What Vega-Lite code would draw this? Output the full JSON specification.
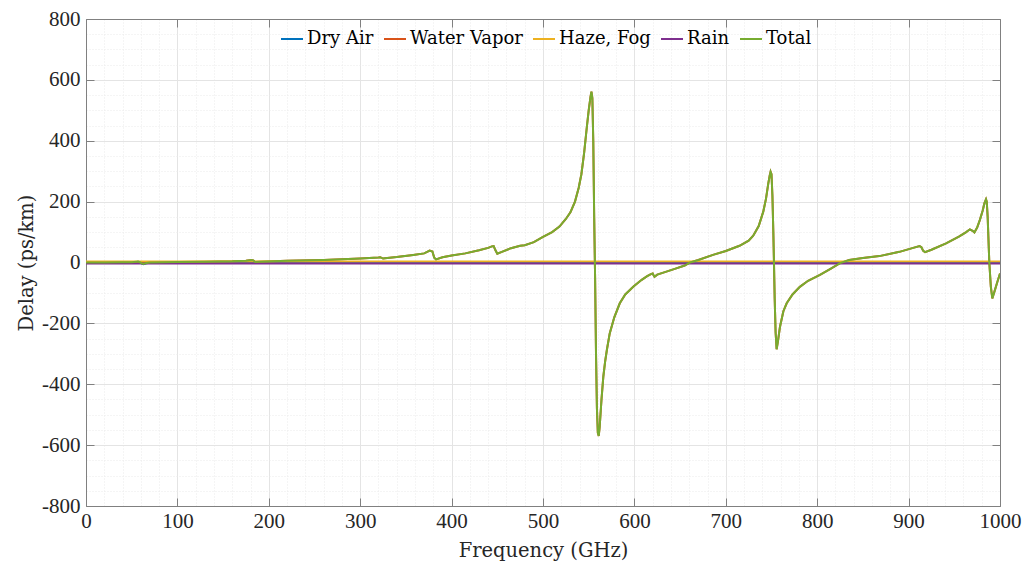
{
  "$schema": "https://vega.github.io/schema/vega-lite/v6.json",
  "width": 914,
  "height": 487,
  "autosize": {"type": "none"},
  "padding": {"left": 86, "top": 19, "right": 23, "bottom": 58},
  "background": "white",
  "config": {
    "view": {"stroke": null},
    "font": "DejaVu Serif",
    "legend": {"labelFont": "DejaVu Serif"},
    "axis": {
      "labelFont": "Liberation Serif",
      "labelFontSize": 21,
      "labelColor": "#262626",
      "titleFont": "DejaVu Serif",
      "titleFontSize": 19.5,
      "titleFontWeight": "normal",
      "titleColor": "#262626",
      "domainColor": "#808080",
      "tickColor": "#808080",
      "gridColor": "#e4e4e4",
      "gridWidth": 1
    }
  },
  "data": {
    "values": [
      {"s": "Dry Air", "f": 0, "v": 0},
      {"s": "Dry Air", "f": 40, "v": 0.2},
      {"s": "Dry Air", "f": 50, "v": 0.5},
      {"s": "Dry Air", "f": 55, "v": 2},
      {"s": "Dry Air", "f": 57, "v": 2.3},
      {"s": "Dry Air", "f": 59, "v": 0.2},
      {"s": "Dry Air", "f": 61, "v": -3.8},
      {"s": "Dry Air", "f": 63, "v": -5.4},
      {"s": "Dry Air", "f": 66, "v": -2.5},
      {"s": "Dry Air", "f": 70, "v": -0.7},
      {"s": "Dry Air", "f": 100, "v": 0},
      {"s": "Dry Air", "f": 1000, "v": 0},

      {"s": "Water Vapor", "f": 0, "v": 0},
      {"s": "Water Vapor", "f": 20, "v": 0.2},
      {"s": "Water Vapor", "f": 40, "v": 0.4},
      {"s": "Water Vapor", "f": 50, "v": 0.5},
      {"s": "Water Vapor", "f": 55, "v": 0.6},
      {"s": "Water Vapor", "f": 57, "v": 0.7},
      {"s": "Water Vapor", "f": 59, "v": 0.8},
      {"s": "Water Vapor", "f": 61, "v": 0.8},
      {"s": "Water Vapor", "f": 63, "v": 0.9},
      {"s": "Water Vapor", "f": 66, "v": 1},
      {"s": "Water Vapor", "f": 70, "v": 1},
      {"s": "Water Vapor", "f": 100, "v": 1.5},
      {"s": "Water Vapor", "f": 130, "v": 2.5},
      {"s": "Water Vapor", "f": 160, "v": 4},
      {"s": "Water Vapor", "f": 175, "v": 6},
      {"s": "Water Vapor", "f": 181, "v": 8},
      {"s": "Water Vapor", "f": 183, "v": 7},
      {"s": "Water Vapor", "f": 185, "v": 1.5},
      {"s": "Water Vapor", "f": 190, "v": 2.5},
      {"s": "Water Vapor", "f": 220, "v": 5.5},
      {"s": "Water Vapor", "f": 260, "v": 8.5},
      {"s": "Water Vapor", "f": 300, "v": 13},
      {"s": "Water Vapor", "f": 320, "v": 16.5},
      {"s": "Water Vapor", "f": 322, "v": 17.5},
      {"s": "Water Vapor", "f": 325, "v": 13},
      {"s": "Water Vapor", "f": 327, "v": 14},
      {"s": "Water Vapor", "f": 340, "v": 18},
      {"s": "Water Vapor", "f": 358, "v": 25},
      {"s": "Water Vapor", "f": 370, "v": 30},
      {"s": "Water Vapor", "f": 376, "v": 39},
      {"s": "Water Vapor", "f": 379, "v": 36},
      {"s": "Water Vapor", "f": 381, "v": 16},
      {"s": "Water Vapor", "f": 383, "v": 10},
      {"s": "Water Vapor", "f": 390, "v": 17},
      {"s": "Water Vapor", "f": 400, "v": 23},
      {"s": "Water Vapor", "f": 415, "v": 30},
      {"s": "Water Vapor", "f": 430, "v": 40},
      {"s": "Water Vapor", "f": 440, "v": 48},
      {"s": "Water Vapor", "f": 444, "v": 53},
      {"s": "Water Vapor", "f": 446, "v": 54},
      {"s": "Water Vapor", "f": 448, "v": 40},
      {"s": "Water Vapor", "f": 450, "v": 29},
      {"s": "Water Vapor", "f": 455, "v": 35},
      {"s": "Water Vapor", "f": 465, "v": 47},
      {"s": "Water Vapor", "f": 475, "v": 55},
      {"s": "Water Vapor", "f": 480, "v": 57},
      {"s": "Water Vapor", "f": 490, "v": 67},
      {"s": "Water Vapor", "f": 500, "v": 84},
      {"s": "Water Vapor", "f": 510, "v": 100},
      {"s": "Water Vapor", "f": 518, "v": 118},
      {"s": "Water Vapor", "f": 525, "v": 143},
      {"s": "Water Vapor", "f": 530, "v": 165},
      {"s": "Water Vapor", "f": 535, "v": 200},
      {"s": "Water Vapor", "f": 539, "v": 245},
      {"s": "Water Vapor", "f": 542, "v": 290},
      {"s": "Water Vapor", "f": 545, "v": 360},
      {"s": "Water Vapor", "f": 548, "v": 446},
      {"s": "Water Vapor", "f": 550, "v": 500},
      {"s": "Water Vapor", "f": 552, "v": 545},
      {"s": "Water Vapor", "f": 553, "v": 561},
      {"s": "Water Vapor", "f": 554, "v": 540},
      {"s": "Water Vapor", "f": 555, "v": 400},
      {"s": "Water Vapor", "f": 556, "v": 150},
      {"s": "Water Vapor", "f": 557, "v": -50},
      {"s": "Water Vapor", "f": 558, "v": -300},
      {"s": "Water Vapor", "f": 559, "v": -480},
      {"s": "Water Vapor", "f": 560, "v": -560},
      {"s": "Water Vapor", "f": 561, "v": -570},
      {"s": "Water Vapor", "f": 562, "v": -540},
      {"s": "Water Vapor", "f": 564, "v": -450},
      {"s": "Water Vapor", "f": 566, "v": -375},
      {"s": "Water Vapor", "f": 568, "v": -325},
      {"s": "Water Vapor", "f": 570, "v": -285},
      {"s": "Water Vapor", "f": 573, "v": -233},
      {"s": "Water Vapor", "f": 578, "v": -180},
      {"s": "Water Vapor", "f": 584, "v": -134},
      {"s": "Water Vapor", "f": 590, "v": -105},
      {"s": "Water Vapor", "f": 599, "v": -79},
      {"s": "Water Vapor", "f": 608, "v": -57},
      {"s": "Water Vapor", "f": 614, "v": -45},
      {"s": "Water Vapor", "f": 618, "v": -38},
      {"s": "Water Vapor", "f": 620, "v": -36},
      {"s": "Water Vapor", "f": 621, "v": -42},
      {"s": "Water Vapor", "f": 622, "v": -47},
      {"s": "Water Vapor", "f": 625, "v": -40},
      {"s": "Water Vapor", "f": 635, "v": -30},
      {"s": "Water Vapor", "f": 645, "v": -20},
      {"s": "Water Vapor", "f": 655, "v": -10},
      {"s": "Water Vapor", "f": 661, "v": 0},
      {"s": "Water Vapor", "f": 670, "v": 8},
      {"s": "Water Vapor", "f": 686, "v": 25},
      {"s": "Water Vapor", "f": 700, "v": 38},
      {"s": "Water Vapor", "f": 715, "v": 55},
      {"s": "Water Vapor", "f": 725, "v": 72},
      {"s": "Water Vapor", "f": 730, "v": 88},
      {"s": "Water Vapor", "f": 736, "v": 120},
      {"s": "Water Vapor", "f": 741, "v": 167},
      {"s": "Water Vapor", "f": 744, "v": 210},
      {"s": "Water Vapor", "f": 746.5, "v": 260},
      {"s": "Water Vapor", "f": 748, "v": 285},
      {"s": "Water Vapor", "f": 749, "v": 298},
      {"s": "Water Vapor", "f": 750, "v": 290},
      {"s": "Water Vapor", "f": 751, "v": 220},
      {"s": "Water Vapor", "f": 752, "v": 100},
      {"s": "Water Vapor", "f": 752.7, "v": 0},
      {"s": "Water Vapor", "f": 753.5, "v": -120},
      {"s": "Water Vapor", "f": 754.5, "v": -230},
      {"s": "Water Vapor", "f": 755.6, "v": -285},
      {"s": "Water Vapor", "f": 757, "v": -260},
      {"s": "Water Vapor", "f": 759.3, "v": -211},
      {"s": "Water Vapor", "f": 763, "v": -160},
      {"s": "Water Vapor", "f": 766.6, "v": -134},
      {"s": "Water Vapor", "f": 773, "v": -105},
      {"s": "Water Vapor", "f": 781, "v": -80},
      {"s": "Water Vapor", "f": 790, "v": -60},
      {"s": "Water Vapor", "f": 803, "v": -41},
      {"s": "Water Vapor", "f": 815, "v": -20},
      {"s": "Water Vapor", "f": 825, "v": -2},
      {"s": "Water Vapor", "f": 835, "v": 8},
      {"s": "Water Vapor", "f": 850, "v": 15},
      {"s": "Water Vapor", "f": 868, "v": 21},
      {"s": "Water Vapor", "f": 890, "v": 35},
      {"s": "Water Vapor", "f": 905, "v": 48},
      {"s": "Water Vapor", "f": 912, "v": 54},
      {"s": "Water Vapor", "f": 914, "v": 50},
      {"s": "Water Vapor", "f": 916, "v": 38},
      {"s": "Water Vapor", "f": 918, "v": 34},
      {"s": "Water Vapor", "f": 925, "v": 42},
      {"s": "Water Vapor", "f": 941, "v": 63},
      {"s": "Water Vapor", "f": 955, "v": 85},
      {"s": "Water Vapor", "f": 963, "v": 100},
      {"s": "Water Vapor", "f": 967, "v": 109},
      {"s": "Water Vapor", "f": 970, "v": 104},
      {"s": "Water Vapor", "f": 972, "v": 99},
      {"s": "Water Vapor", "f": 975, "v": 115},
      {"s": "Water Vapor", "f": 978, "v": 140},
      {"s": "Water Vapor", "f": 981, "v": 170},
      {"s": "Water Vapor", "f": 983, "v": 195},
      {"s": "Water Vapor", "f": 984.7, "v": 208},
      {"s": "Water Vapor", "f": 985.5, "v": 200},
      {"s": "Water Vapor", "f": 986.5, "v": 150},
      {"s": "Water Vapor", "f": 988.3, "v": 0},
      {"s": "Water Vapor", "f": 990, "v": -80},
      {"s": "Water Vapor", "f": 991.6, "v": -118},
      {"s": "Water Vapor", "f": 994, "v": -95},
      {"s": "Water Vapor", "f": 997, "v": -65},
      {"s": "Water Vapor", "f": 1000, "v": -36},

      {"s": "Haze, Fog", "f": 0, "v": 3},
      {"s": "Haze, Fog", "f": 1000, "v": 3},
      {"s": "Rain", "f": 0, "v": -3},
      {"s": "Rain", "f": 1000, "v": -3},

      {"s": "Total", "f": 0, "v": 0},
      {"s": "Total", "f": 20, "v": 0.2},
      {"s": "Total", "f": 40, "v": 0.6},
      {"s": "Total", "f": 50, "v": 1},
      {"s": "Total", "f": 55, "v": 2.6},
      {"s": "Total", "f": 57, "v": 3},
      {"s": "Total", "f": 59, "v": 1},
      {"s": "Total", "f": 61, "v": -3},
      {"s": "Total", "f": 63, "v": -4.5},
      {"s": "Total", "f": 66, "v": -1.5},
      {"s": "Total", "f": 70, "v": 0.3},
      {"s": "Total", "f": 100, "v": 1.5},
      {"s": "Total", "f": 130, "v": 2.5},
      {"s": "Total", "f": 160, "v": 4},
      {"s": "Total", "f": 175, "v": 6},
      {"s": "Total", "f": 181, "v": 8},
      {"s": "Total", "f": 183, "v": 7},
      {"s": "Total", "f": 185, "v": 1.5},
      {"s": "Total", "f": 190, "v": 2.5},
      {"s": "Total", "f": 220, "v": 5.5},
      {"s": "Total", "f": 260, "v": 8.5},
      {"s": "Total", "f": 300, "v": 13},
      {"s": "Total", "f": 320, "v": 16.5},
      {"s": "Total", "f": 322, "v": 17.5},
      {"s": "Total", "f": 325, "v": 13},
      {"s": "Total", "f": 327, "v": 14},
      {"s": "Total", "f": 340, "v": 18},
      {"s": "Total", "f": 358, "v": 25},
      {"s": "Total", "f": 370, "v": 30},
      {"s": "Total", "f": 376, "v": 39},
      {"s": "Total", "f": 379, "v": 36},
      {"s": "Total", "f": 381, "v": 16},
      {"s": "Total", "f": 383, "v": 10},
      {"s": "Total", "f": 390, "v": 17},
      {"s": "Total", "f": 400, "v": 23},
      {"s": "Total", "f": 415, "v": 30},
      {"s": "Total", "f": 430, "v": 40},
      {"s": "Total", "f": 440, "v": 48},
      {"s": "Total", "f": 444, "v": 53},
      {"s": "Total", "f": 446, "v": 54},
      {"s": "Total", "f": 448, "v": 40},
      {"s": "Total", "f": 450, "v": 29},
      {"s": "Total", "f": 455, "v": 35},
      {"s": "Total", "f": 465, "v": 47},
      {"s": "Total", "f": 475, "v": 55},
      {"s": "Total", "f": 480, "v": 57},
      {"s": "Total", "f": 490, "v": 67},
      {"s": "Total", "f": 500, "v": 84},
      {"s": "Total", "f": 510, "v": 100},
      {"s": "Total", "f": 518, "v": 118},
      {"s": "Total", "f": 525, "v": 143},
      {"s": "Total", "f": 530, "v": 165},
      {"s": "Total", "f": 535, "v": 200},
      {"s": "Total", "f": 539, "v": 245},
      {"s": "Total", "f": 542, "v": 290},
      {"s": "Total", "f": 545, "v": 360},
      {"s": "Total", "f": 548, "v": 446},
      {"s": "Total", "f": 550, "v": 500},
      {"s": "Total", "f": 552, "v": 545},
      {"s": "Total", "f": 553, "v": 561},
      {"s": "Total", "f": 554, "v": 540},
      {"s": "Total", "f": 555, "v": 400},
      {"s": "Total", "f": 556, "v": 150},
      {"s": "Total", "f": 557, "v": -50},
      {"s": "Total", "f": 558, "v": -300},
      {"s": "Total", "f": 559, "v": -480},
      {"s": "Total", "f": 560, "v": -560},
      {"s": "Total", "f": 561, "v": -570},
      {"s": "Total", "f": 562, "v": -540},
      {"s": "Total", "f": 564, "v": -450},
      {"s": "Total", "f": 566, "v": -375},
      {"s": "Total", "f": 568, "v": -325},
      {"s": "Total", "f": 570, "v": -285},
      {"s": "Total", "f": 573, "v": -233},
      {"s": "Total", "f": 578, "v": -180},
      {"s": "Total", "f": 584, "v": -134},
      {"s": "Total", "f": 590, "v": -105},
      {"s": "Total", "f": 599, "v": -79},
      {"s": "Total", "f": 608, "v": -57},
      {"s": "Total", "f": 614, "v": -45},
      {"s": "Total", "f": 618, "v": -38},
      {"s": "Total", "f": 620, "v": -36},
      {"s": "Total", "f": 621, "v": -42},
      {"s": "Total", "f": 622, "v": -47},
      {"s": "Total", "f": 625, "v": -40},
      {"s": "Total", "f": 635, "v": -30},
      {"s": "Total", "f": 645, "v": -20},
      {"s": "Total", "f": 655, "v": -10},
      {"s": "Total", "f": 661, "v": 0},
      {"s": "Total", "f": 670, "v": 8},
      {"s": "Total", "f": 686, "v": 25},
      {"s": "Total", "f": 700, "v": 38},
      {"s": "Total", "f": 715, "v": 55},
      {"s": "Total", "f": 725, "v": 72},
      {"s": "Total", "f": 730, "v": 88},
      {"s": "Total", "f": 736, "v": 120},
      {"s": "Total", "f": 741, "v": 167},
      {"s": "Total", "f": 744, "v": 210},
      {"s": "Total", "f": 746.5, "v": 260},
      {"s": "Total", "f": 748, "v": 285},
      {"s": "Total", "f": 749, "v": 298},
      {"s": "Total", "f": 750, "v": 290},
      {"s": "Total", "f": 751, "v": 220},
      {"s": "Total", "f": 752, "v": 100},
      {"s": "Total", "f": 752.7, "v": 0},
      {"s": "Total", "f": 753.5, "v": -120},
      {"s": "Total", "f": 754.5, "v": -230},
      {"s": "Total", "f": 755.6, "v": -285},
      {"s": "Total", "f": 757, "v": -260},
      {"s": "Total", "f": 759.3, "v": -211},
      {"s": "Total", "f": 763, "v": -160},
      {"s": "Total", "f": 766.6, "v": -134},
      {"s": "Total", "f": 773, "v": -105},
      {"s": "Total", "f": 781, "v": -80},
      {"s": "Total", "f": 790, "v": -60},
      {"s": "Total", "f": 803, "v": -41},
      {"s": "Total", "f": 815, "v": -20},
      {"s": "Total", "f": 825, "v": -2},
      {"s": "Total", "f": 835, "v": 8},
      {"s": "Total", "f": 850, "v": 15},
      {"s": "Total", "f": 868, "v": 21},
      {"s": "Total", "f": 890, "v": 35},
      {"s": "Total", "f": 905, "v": 48},
      {"s": "Total", "f": 912, "v": 54},
      {"s": "Total", "f": 914, "v": 50},
      {"s": "Total", "f": 916, "v": 38},
      {"s": "Total", "f": 918, "v": 34},
      {"s": "Total", "f": 925, "v": 42},
      {"s": "Total", "f": 941, "v": 63},
      {"s": "Total", "f": 955, "v": 85},
      {"s": "Total", "f": 963, "v": 100},
      {"s": "Total", "f": 967, "v": 109},
      {"s": "Total", "f": 970, "v": 104},
      {"s": "Total", "f": 972, "v": 99},
      {"s": "Total", "f": 975, "v": 115},
      {"s": "Total", "f": 978, "v": 140},
      {"s": "Total", "f": 981, "v": 170},
      {"s": "Total", "f": 983, "v": 195},
      {"s": "Total", "f": 984.7, "v": 208},
      {"s": "Total", "f": 985.5, "v": 200},
      {"s": "Total", "f": 986.5, "v": 150},
      {"s": "Total", "f": 988.3, "v": 0},
      {"s": "Total", "f": 990, "v": -80},
      {"s": "Total", "f": 991.6, "v": -118},
      {"s": "Total", "f": 994, "v": -95},
      {"s": "Total", "f": 997, "v": -65},
      {"s": "Total", "f": 1000, "v": -36}
    ]
  },
  "layer": [
    {
      "mark": {"type": "point", "opacity": 0},
      "encoding": {
        "x": {
          "field": "f", "type": "quantitative",
          "scale": {"domain": [0, 1000], "nice": false, "zero": false},
          "axis": {
            "orient": "bottom", "title": null, "labels": false, "ticks": false, "domain": false,
            "grid": true, "gridColor": "#ebebeb", "gridDash": [1, 2],
            "values": [20, 40, 60, 80, 120, 140, 160, 180, 220, 240, 260, 280, 320, 340, 360, 380, 420, 440, 460, 480, 520, 540, 560, 580, 620, 640, 660, 680, 720, 740, 760, 780, 820, 840, 860, 880, 920, 940, 960, 980]
          }
        },
        "y": {
          "field": "v", "type": "quantitative",
          "scale": {"domain": [-800, 800], "nice": false, "zero": false},
          "axis": {
            "orient": "left", "title": null, "labels": false, "ticks": false, "domain": false,
            "grid": true, "gridColor": "#ebebeb", "gridDash": [1, 2],
            "values": [-750, -700, -650, -550, -500, -450, -350, -300, -250, -150, -100, -50, 50, 100, 150, 250, 300, 350, 450, 500, 550, 650, 700, 750]
          }
        }
      }
    },
    {
      "mark": {"type": "line", "strokeWidth": 2, "clip": true},
      "encoding": {
        "x": {
          "field": "f", "type": "quantitative",
          "scale": {"domain": [0, 1000], "nice": false, "zero": false},
          "axis": {
            "orient": "bottom", "title": "Frequency (GHz)",
            "values": [0, 100, 200, 300, 400, 500, 600, 700, 800, 900, 1000],
            "grid": true, "tickSize": -8, "labelPadding": 12, "titlePadding": 10,
            "labelFont": "Liberation Serif", "labelFontSize": 21,
            "labelFlush": false, "labelOverlap": false,
            "labelExpr": "format(datum.value, 'd')"
          }
        },
        "y": {
          "field": "v", "type": "quantitative",
          "scale": {"domain": [-800, 800], "nice": false, "zero": false},
          "axis": {
            "orient": "left", "title": "Delay (ps/km)",
            "values": [-800, -600, -400, -200, 0, 200, 400, 600, 800],
            "grid": true, "tickSize": -8, "labelPadding": 14, "titlePadding": 5,
            "labelFont": "Liberation Serif", "labelFontSize": 21,
            "labelFlush": false, "labelOverlap": false,
            "labelExpr": "datum.value < 0 ? '-' + format(-datum.value, 'd') : format(datum.value, 'd')"
          }
        },
        "color": {
          "field": "s", "type": "nominal",
          "scale": {
            "domain": ["Dry Air", "Water Vapor", "Haze, Fog", "Rain", "Total"],
            "range": ["#0072BD", "#D95319", "#EDB120", "#7E2F8E", "#77AC30"]
          },
          "legend": {
            "orient": "none", "legendX": 194, "legendY": 8, "direction": "horizontal",
            "title": null, "symbolType": "stroke", "symbolSize": 484, "symbolStrokeWidth": 2,
            "labelFont": "DejaVu Serif", "labelFontSize": 18, "labelColor": "#000000",
            "columnPadding": 6, "labelOffset": 3, "padding": 0
          }
        }
      }
    },
    {
      "mark": {"type": "point", "opacity": 0},
      "encoding": {
        "x": {
          "field": "f", "type": "quantitative",
          "scale": {"domain": [0, 1000], "nice": false, "zero": false},
          "axis": {
            "orient": "top", "title": null, "labels": false, "grid": false, "tickSize": -8,
            "values": [0, 100, 200, 300, 400, 500, 600, 700, 800, 900, 1000]
          }
        },
        "y": {
          "field": "v", "type": "quantitative",
          "scale": {"domain": [-800, 800], "nice": false, "zero": false},
          "axis": {
            "orient": "right", "title": null, "labels": false, "grid": false, "tickSize": -8,
            "values": [-800, -600, -400, -200, 0, 200, 400, 600, 800]
          }
        }
      }
    }
  ],
  "resolve": {"axis": {"x": "independent", "y": "independent"}}
}
